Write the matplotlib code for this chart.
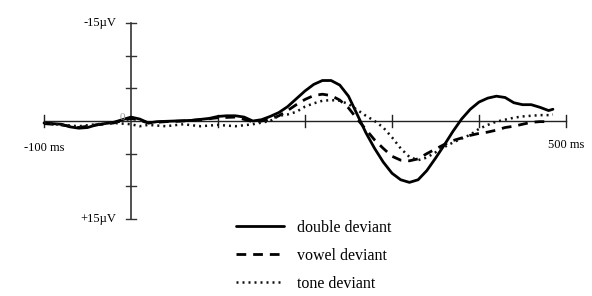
import matplotlib
matplotlib.use("Agg")
from matplotlib import pyplot as plt
import numpy as np

plt.rcParams['font.family'] = ['Liberation Serif', 'DejaVu Serif']

# ERP waveforms (time in ms, amplitude in microvolts, negative up)
t_double = [-100, -90, -80, -70, -60, -50, -40, -30, -20, -10, 0, 10, 20, 30, 50, 70, 90, 100,
            110, 120, 130, 140, 150, 160, 170, 180, 190, 200, 210, 220, 230, 240, 250, 260,
            270, 280, 290, 300, 310, 320, 330, 340, 350, 360, 370, 380, 390, 400, 410, 420,
            430, 440, 450, 460, 470, 480, 485]
v_double = [0.3, 0.4, 0.5, 0.9, 1.1, 1.0, 0.6, 0.4, 0.2, -0.2, -0.6, -0.3, 0.3, 0.1, 0.0, -0.1,
            -0.4, -0.7, -0.8, -0.8, -0.6, 0.0, -0.2, -0.7, -1.3, -2.2, -3.4, -4.6, -5.6, -6.2,
            -6.2, -5.5, -3.8, -1.0, 1.8, 4.2, 6.3, 8.0, 9.0, 9.4, 9.0, 7.6, 5.7, 3.7, 1.6, -0.3,
            -1.8, -2.9, -3.5, -3.8, -3.6, -2.8, -2.5, -2.5, -2.1, -1.6, -1.8]

t_vowel = [-100, -80, -60, -40, -20, 0, 10, 20, 40, 60, 80, 100, 120, 140, 150, 160, 170, 180,
           190, 200, 210, 220, 230, 240, 250, 260, 270, 280, 290, 300, 310, 320, 330, 340, 350,
           360, 370, 380, 390, 400, 410, 420, 430, 440, 450, 460, 470, 480]
v_vowel = [0.4, 0.6, 1.0, 0.6, 0.3, -0.4, -0.1, 0.3, 0.1, 0.0, -0.2, -0.5, -0.6, 0.1, 0.0,
           -0.3, -0.8, -1.6, -2.5, -3.3, -3.9, -4.1, -3.9, -3.2, -2.0, -0.3, 1.3, 2.9, 4.2,
           5.4, 6.0, 6.1, 5.8, 5.0, 4.3, 3.6, 3.0, 2.6, 2.2, 1.9, 1.7, 1.4, 1.0, 0.8, 0.5, 0.2,
           0.1, 0.1]

t_tone = [-100, -80, -60, -40, -20, 0, 10, 20, 40, 60, 80, 100, 120, 140, 160, 170, 180, 190,
          200, 210, 220, 230, 240, 250, 260, 270, 280, 290, 300, 310, 320, 330, 340, 350, 360,
          370, 380, 390, 400, 410, 420, 430, 440, 450, 460, 470, 480, 485]
v_tone = [0.3, 0.6, 0.8, 0.5, 0.3, 0.5, 0.8, 0.6, 0.8, 0.5, 0.8, 0.6, 0.8, 0.5, 0.0, -0.8,
          -1.0, -1.4, -2.2, -2.7, -3.1, -3.2, -3.1, -2.6, -1.7, -0.8, 0.0, 1.0, 2.5, 4.2, 5.5,
          6.0, 5.6, 4.8, 4.0, 3.3, 2.7, 2.1, 1.2, 0.6, 0.1, -0.2, -0.5, -0.7, -0.8, -0.9, -0.9,
          -1.0]

labels = ['double deviant', 'vowel deviant', 'tone deviant']
x_ticks = [-100, 100, 200, 300, 400, 500]
y_ticks = [-15, -10, -5, 5, 10, 15]

fig = plt.figure(figsize=(5.92, 2.96), dpi=100)
ax = fig.add_axes([0, 0, 1, 1])
ax.set_xlim(-150.6, 529.9)
ax.set_ylim(26.8, -18.53)
ax.axis('off')

# axes drawn by hand
ax.plot([-100, 500], [0, 0], color='#222222', lw=1.0)
ax.plot([0, 0], [-15, 15], color='#333333', lw=1.2)
for xt in x_ticks:
    ax.plot([xt, xt], [-0.9, 0.9], color='#222222', lw=1.0)
for yt in y_ticks:
    ax.plot([-6, 6], [yt, yt], color='#333333', lw=1.0)

ax.text(-17, -15, '-15\u00b5V', ha='right', va='center', fontsize=9)
ax.text(-17, 15, '+15\u00b5V', ha='right', va='center', fontsize=9)
ax.text(-100, 4.2, '-100 ms', ha='center', va='center', fontsize=9)
ax.text(500, 3.6, '500 ms', ha='center', va='center', fontsize=9)
ax.text(-10, -0.6, '0', ha='center', va='center', fontsize=8, color='#999999')

l1, = ax.plot(t_double, v_double, color='black', lw=2.0, solid_capstyle='round')
l2, = ax.plot(t_vowel, v_vowel, color='black', lw=2.0, linestyle=(0, (3.5, 2.5)))
l3, = ax.plot(t_tone, v_tone, color='#111111', lw=1.8, linestyle=(0, (0.8, 1.6)))

leg = ax.legend([l1, l2, l3], labels, loc='upper left', bbox_to_anchor=(0.385, 0.285),
                frameon=False, fontsize=11.5, handlelength=3.0, handletextpad=0.8,
                labelspacing=0.75, borderpad=0)

fig.savefig('out.png', dpi=100)
